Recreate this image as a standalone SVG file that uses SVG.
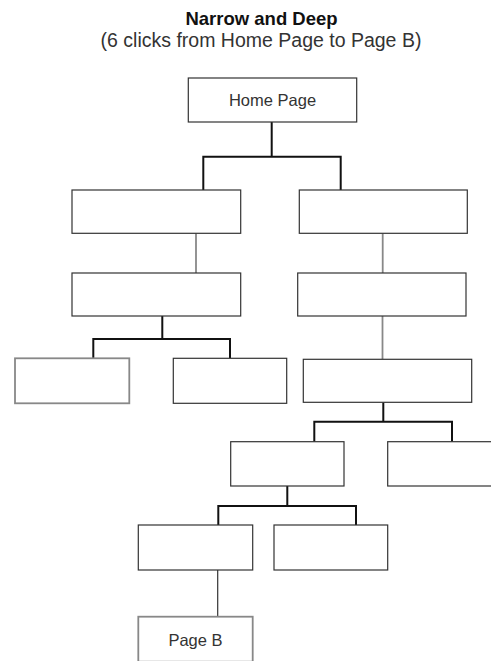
<svg xmlns="http://www.w3.org/2000/svg" width="491" height="661" viewBox="0 0 491 661">
<style>
.box{fill:#fff;stroke:#333;stroke-width:1.2}
.gbox{fill:#fff;stroke:#888;stroke-width:1.8}
.thick{fill:none;stroke:#111;stroke-width:2}
.gray{fill:none;stroke:#888;stroke-width:1.8}
.thin{fill:none;stroke:#333;stroke-width:1.2}
.lbl{font-family:"Liberation Sans",Arial,sans-serif;font-size:16.5px;fill:#333;text-anchor:middle}
.title{font-family:"Liberation Sans",Arial,sans-serif;font-size:18.5px;fill:#111;text-anchor:middle}
.sub{font-family:"Liberation Sans",Arial,sans-serif;font-size:19.5px;fill:#333;text-anchor:middle}
</style>
<rect width="491" height="661" fill="#fff"/>
<g id="title">
<text class="title" x="261.5" y="25" font-weight="bold">Narrow and Deep</text>
<text class="sub" x="261" y="46.5">(6 clicks from Home Page to Page B)</text>
</g>
<g id="connectors">
<path class="thick" d="M271.7 122 V156.7 M203.3 190 V156.7 H340.7 V190"/>
<path class="gray" d="M196 233.3 V273"/>
<path class="gray" d="M382.7 233.3 V273"/>
<path class="gray" d="M382.5 316 V359.3"/>
<path class="thick" d="M162.3 316 V339 M93.3 358.3 V339 H230 V358.3"/>
<path class="thick" d="M383.3 402.3 V421.7 M314.3 441.7 V421.7 H452 V441.7"/>
<path class="thick" d="M287.3 486 V506 M218.3 525 V506 H356 V525"/>
<path class="thin" d="M217.7 570 V616.7"/>
</g>
<g id="home"><rect class="box" x="188.3" y="78" width="168.4" height="44"/><text class="lbl" x="272.5" y="106">Home Page</text></g>
<g id="l1a"><rect class="box" x="72" y="190" width="168.7" height="43.3"/></g>
<g id="l1b"><rect class="box" x="299.3" y="190" width="168" height="43.3"/></g>
<g id="l2a"><rect class="box" x="72" y="273" width="168.7" height="43"/></g>
<g id="l2b"><rect class="box" x="297.7" y="273" width="168.3" height="43"/></g>
<g id="l3a"><rect class="gbox" x="15" y="358.3" width="114.3" height="45"/></g>
<g id="l3b"><rect class="box" x="173.3" y="358.3" width="113.4" height="45"/></g>
<g id="l3c"><rect class="box" x="303.3" y="359.3" width="168.4" height="43"/></g>
<g id="l4a"><rect class="box" x="230.7" y="441.7" width="113.3" height="44.3"/></g>
<g id="l4b"><rect class="box" x="387.7" y="441.7" width="113.3" height="44.3"/></g>
<g id="l5a"><rect class="box" x="138.3" y="525" width="114.4" height="45"/></g>
<g id="l5b"><rect class="box" x="274" y="525" width="113.7" height="45"/></g>
<g id="pageb"><rect class="gbox" x="138.3" y="616.7" width="114.4" height="45"/><text class="lbl" x="195.5" y="645.5">Page B</text></g>
</svg>
